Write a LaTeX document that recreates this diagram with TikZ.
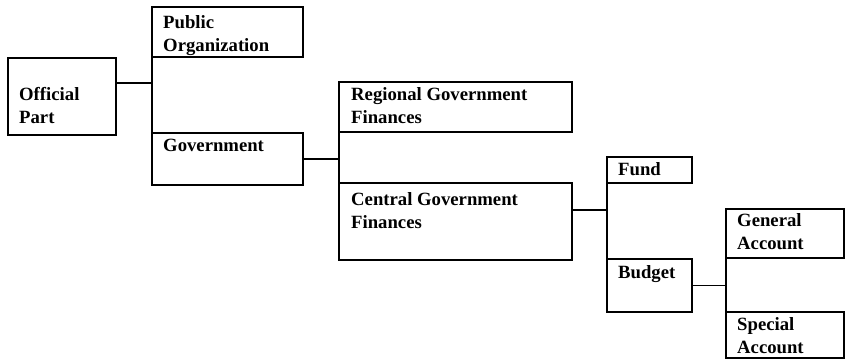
\documentclass[tikz,border=0pt]{standalone}
\usepackage{fontspec}
\setmainfont{Liberation Serif}
\usepackage{tikz}
\usetikzlibrary{positioning}

\begin{document}
\begin{tikzpicture}[
    x=1pt, y=-1pt,
    box_style/.style 2 args={draw, line width=1.5pt, minimum width=#1, minimum height=#2,
        anchor=north west, inner sep=0pt, outer sep=0pt},
    text_style/.style={anchor=north west, align=left, inner sep=0pt,
        font=\fontsize{18.7}{23}\selectfont\bfseries},
    line_style/.style={line width=1.5pt}
]
    \useasboundingbox (0,0) rectangle (846,360);

    % Boxes
    \node[box_style={108pt}{77pt}] (official) at (8,58) {};
    \node[box_style={151pt}{50pt}] (public) at (152,7) {};
    \node[box_style={151pt}{52pt}] (government) at (152,133) {};
    \node[box_style={233pt}{50pt}] (regional) at (339,82) {};
    \node[box_style={233pt}{77pt}] (central) at (339,183) {};
    \node[box_style={85pt}{26pt}] (fund) at (607,157) {};
    \node[box_style={85pt}{53pt}] (budget) at (607,259) {};
    \node[box_style={118pt}{49pt}] (general) at (726,209) {};
    \node[box_style={118pt}{46pt}] (special) at (726,312) {};

    % Texts
    \node[text_style] (official_text) at ([shift={(11pt,-29pt)}]official.north west) {Official\\Part};
    \node[text_style] (public_text) at ([shift={(11pt,-8pt)}]public.north west) {Public\\Organization};
    \node[text_style] (government_text) at ([shift={(11pt,-6pt)}]government.north west) {Government};
    \node[text_style] (regional_text) at ([shift={(12pt,-5pt)}]regional.north west) {Regional Government\\Finances};
    \node[text_style] (central_text) at ([shift={(12pt,-9pt)}]central.north west) {Central Government\\Finances};
    \node[text_style] (fund_text) at ([shift={(11pt,-5pt)}]fund.north west) {Fund};
    \node[text_style] (budget_text) at ([shift={(11pt,-6pt)}]budget.north west) {Budget};
    \node[text_style] (general_text) at ([shift={(11pt,-4pt)}]general.north west) {General\\Account};
    \node[text_style] (special_text) at ([shift={(11pt,-5pt)}]special.north west) {Special\\Account};

    % Connectors
    \draw[line_style] (public.south west) -- (government.north west);
    \draw[line_style] ([yshift=13.5pt]official.east) coordinate (j1) -- (j1 -| government.west);
    \draw[line_style] (regional.south west) -- (central.north west);
    \draw[line_style] (government.east) -- (government.east -| central.west);
    \draw[line_style] (fund.south west) -- (budget.north west);
    \draw[line_style] ([yshift=11.5pt]central.east) coordinate (j2) -- (j2 -| budget.west);
    \draw[line_style] (general.south west) -- (special.north west);
    \draw[line_style] (budget.east) -- (budget.east -| special.west);
\end{tikzpicture}
\end{document}
